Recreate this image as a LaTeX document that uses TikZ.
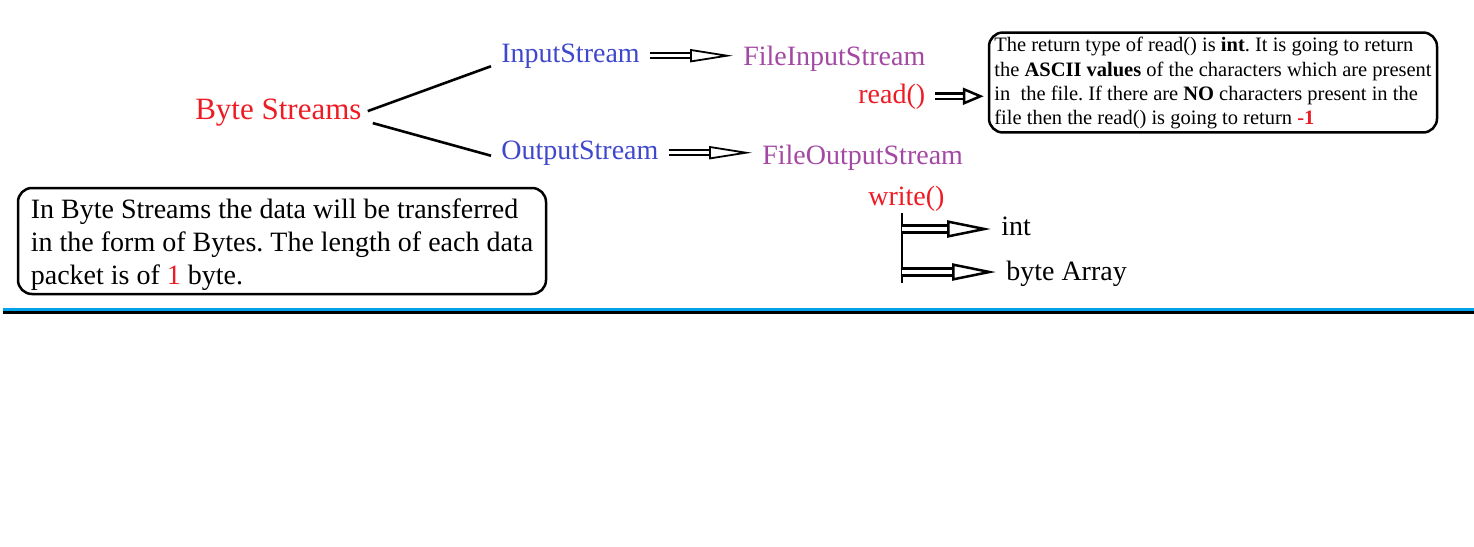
\documentclass[tikz,border=0pt]{standalone}
\usepackage{fontspec}
\setmainfont{Liberation Serif}
\usetikzlibrary{arrows.meta,positioning}
\definecolor{bsred}{RGB}{237,28,36}
\definecolor{isblue}{RGB}{63,72,204}
\definecolor{fpurple}{RGB}{163,73,164}
\definecolor{lineblue}{RGB}{0,162,232}

\begin{document}
\begin{tikzpicture}[x=1pt, y=-1pt, line width=2.6pt]
\tikzstyle{lbl}=[inner xsep=9pt, inner ysep=0pt, anchor=base west, font=\fontsize{28}{33}\selectfont]
\tikzstyle{box}=[draw=black, line width=2.5pt, rounded corners=14pt, align=left]
\tikzstyle{dbl}=[draw=black, line width=1.8pt, double=white, double distance=3pt,
  -{Triangle[open, length=43pt, width=13pt, line width=1.8pt]}]
\tikzstyle{dblrd}=[draw=black, line width=2.5pt, double=white, double distance=3pt,
  -{Triangle[open, length=21pt, width=17pt, line width=2.5pt]}]
\tikzstyle{dblwr}=[draw=black, line width=3pt, double=white, double distance=4.5pt,
  -{Triangle[open, length=44pt, width=17pt, line width=2.5pt]}]
\useasboundingbox (0,0) rectangle (1474,546);
\node[lbl, text=bsred, font=\fontsize{31}{36}\selectfont] (BS)  at (185,119) {Byte Streams};
\node[lbl, text=isblue]  (IS)  at (491,62)  {InputStream};
\node[lbl, text=fpurple] (FIS) at (733,65)  {FileInputStream};
\node[lbl, text=bsred]   (rd)  at (848,103) {read()};
\node[lbl, text=isblue]  (OS)  at (491,159) {OutputStream};
\node[lbl, text=fpurple] (FOS) at (752,164) {FileOutputStream};
\node[lbl, text=bsred]   (wr)  at (858,205) {write()};
\node[lbl]               (int) at (991,235) {int};
\node[lbl]               (ba)  at (996,280) {byte Array};
\node[box, minimum width=448pt, minimum height=99pt,
  font=\fontsize{20.5}{24.3}\selectfont\frenchspacing] (note) at (1213,82.5)
  {\rule{0pt}{16pt}The return type of read() is \textbf{int}. It is going to return\\
   the \textbf{ASCII values} of the characters which are present\\
   in~ the file. If there are \textbf{NO} characters present in the\\
   file then the read() is going to return \textcolor{bsred}{\textbf{-1}}};
\node[box, minimum width=528pt, minimum height=106pt,
  font=\fontsize{28}{33}\selectfont\frenchspacing] (info) at (282,241)
  {\rule{0pt}{27pt}In Byte Streams the data will be transferred\\
   in the form of Bytes. The length of each data\\
   packet is of \textcolor{bsred}{1} byte.};
\coordinate (wtop) at (902,213);
\coordinate (wbot) at (902,283);
\coordinate (wint) at (902,229);
\coordinate (wba)  at (902,272);
\coordinate (sepL) at (3,0);
\coordinate (sepR) at (1474,0);
% branches
\draw ([xshift=-4pt,yshift=1pt]BS.east) -- ([yshift=3pt]IS.south west);
\draw ([xshift=1pt,yshift=-11pt]BS.east) -- ([yshift=-3pt]OS.west);
% double arrows
\draw[dbl] (IS.east) -- (IS.east -| FIS.west);
\draw[dbl] (OS.east) -- (OS.east -| FOS.west);
\draw[dblrd, shorten >=4pt] (rd.east) -- (rd.east -| note.west);
\draw (wtop) -- (wbot);
\draw[dblwr] (wint) -- (wint -| int.west);
\draw[dblwr] (wba) -- (wba -| ba.west);
% separator
\draw[lineblue, line width=2.7pt] ([yshift=-309.5pt]sepL) -- ([yshift=-309.5pt]sepR);
\draw[black, line width=3pt] ([yshift=-312.5pt]sepL) -- ([yshift=-312.5pt]sepR);
\end{tikzpicture}
\end{document}
